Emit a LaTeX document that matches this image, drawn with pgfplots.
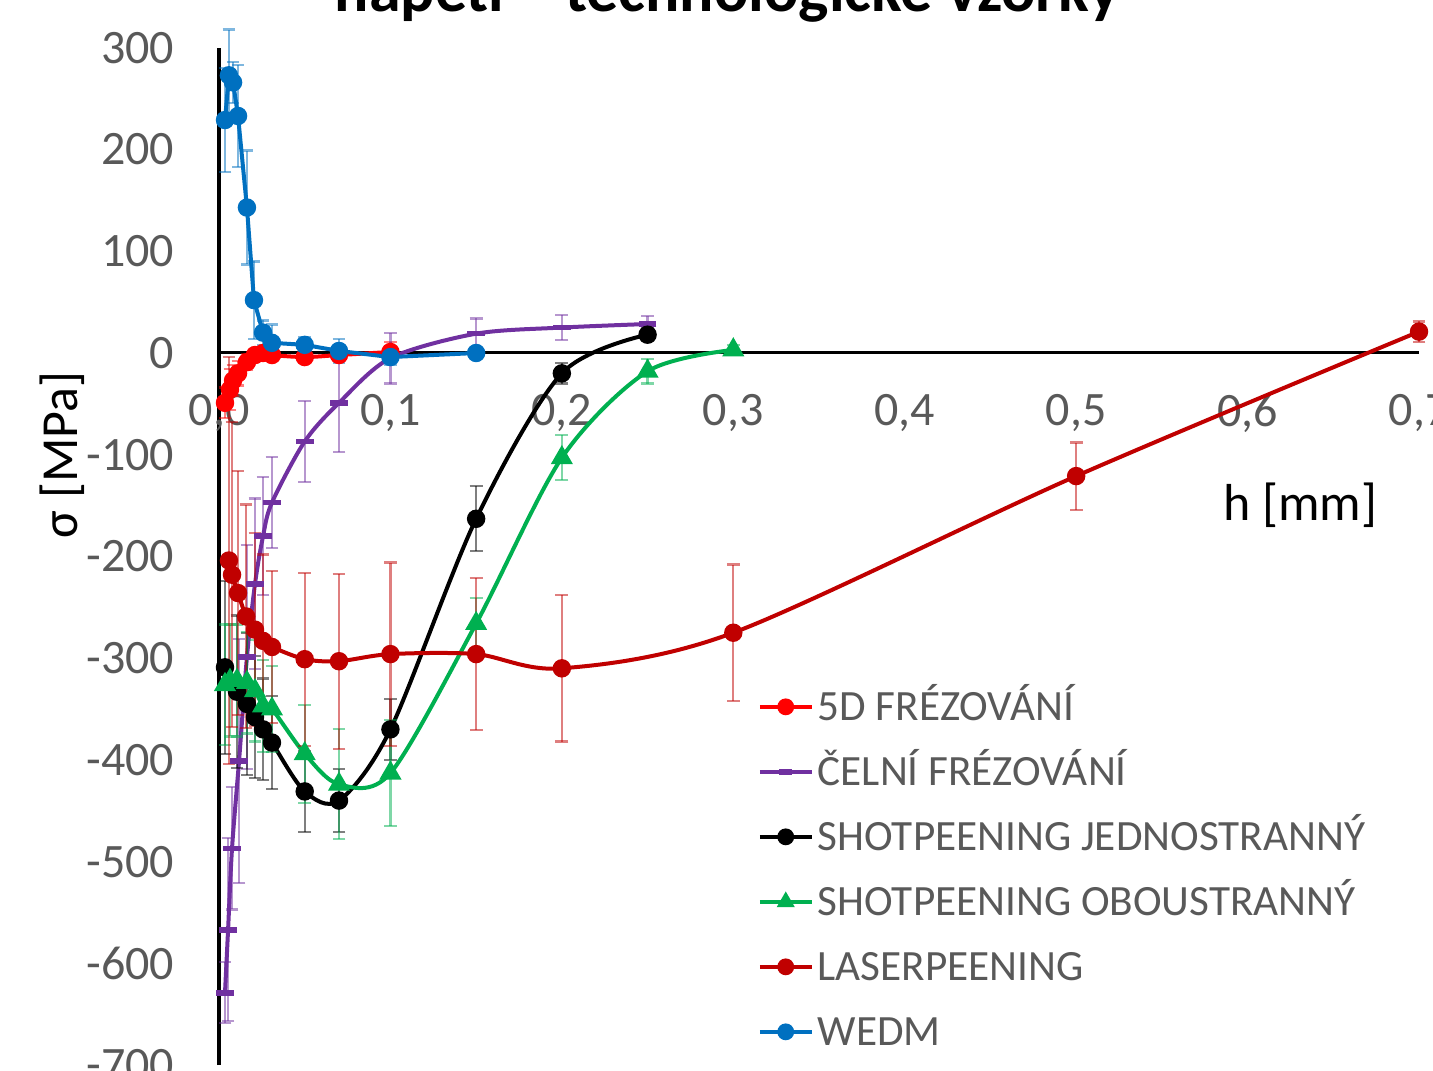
\documentclass[border=0pt]{standalone}
\usepackage{fontspec}
\setmainfont{Carlito}
\usepackage{pgfplots}
\pgfplotsset{compat=1.18}

\definecolor{c5d}{HTML}{FF0000}
\definecolor{ccel}{HTML}{7030A0}
\definecolor{csh1}{HTML}{000000}
\definecolor{csh2}{HTML}{00B050}
\definecolor{claser}{HTML}{C00000}
\definecolor{cwedm}{HTML}{0070C0}
\definecolor{tickgray}{HTML}{595959}

\pgfplotsset{
  ser/.style={line width=1pt, color=#1, mark options={solid, fill=#1, draw=#1},
    error bars/y dir=both, error bars/y explicit,
    error bars/error bar style={line width=0.55pt, draw=#1, draw opacity=0.5},
    error bars/error mark options={rotate=90, line width=0.55pt, mark size=1.6pt, draw=#1, draw opacity=0.5}},
}

\begin{document}
\begin{tikzpicture}
\useasboundingbox (-54.75pt,-179.25pt) rectangle (303.5pt,88.25pt);
\clip (-54.75pt,-179.25pt) rectangle (303.5pt,88.25pt);
\begin{axis}[
    anchor=origin, at={(0pt,0pt)},
    x=428.57pt, y=0.2543pt,
    xmin=0, xmax=0.7, ymin=-700, ymax=300,
    axis lines=middle,
    axis line style={-},
    x axis line style={line width=0.75pt},
    y axis line style={line width=1pt},
    clip=false,
    xtick={0,0.1,0.2,0.3,0.4,0.5,0.6,0.7},
    ytick={-700,-600,-500,-400,-300,-200,-100,0,100,200,300},
    major tick length=0pt,
    hide obscured x ticks=false, hide obscured y ticks=false,
    tick label style={font=\fontsize{12}{12}\selectfont, text=tickgray, inner sep=0pt,
      /pgf/number format/assume math mode=true},
    x tick label style={anchor=center, yshift=-15pt,
      /pgf/number format/.cd, fixed, fixed zerofill, precision=1, use comma, /tikz/.cd},
    y tick label style={anchor=east, xshift=-11pt,
      /pgf/number format/.cd, fixed, precision=0, /tikz/.cd},
    xlabel={h [mm]}, ylabel={σ [MPa]},
    every axis x label/.style={at={(axis cs:0.6307,-149.5)}, anchor=center,
      font=\fontsize{13}{13}\selectfont},
    every axis y label/.style={at={(axis cs:-0.0916,-100.3)}, anchor=center, rotate=90,
      font=\fontsize{13}{13}\selectfont},
    legend cell align=left,
    legend style={at={(axis cs:0.3138,-327.4)}, anchor=north west, draw=none, fill=none,
      inner sep=0pt, row sep=6.25pt, column sep=1pt,
      font=\fontsize{10.8}{10.8}\selectfont, text=tickgray,
      nodes={inner sep=0pt, text height=8.5pt, text depth=1.5pt}},
    legend image code/.code={\draw[mark repeat=2, mark phase=2, mark size=1.6pt]
      plot coordinates {(0pt,0pt) (6.5pt,0pt) (13pt,0pt)};},
]

% 5D frezovani
\addplot[ser=c5d, smooth, mark=*, mark size=1.8pt] coordinates {
  (0.0035,-49) +- (0,15)
  (0.0064,-36) +- (0,20)
  (0.0082,-27) +- (0,15)
  (0.0111,-20) +- (0,12)
  (0.0163,-9)  +- (0,8)
  (0.0210,-2)  +- (0,6)
  (0.0257,0)   +- (0,5)
  (0.0309,-2)  +- (0,5)
  (0.05,-4)    +- (0,5)
  (0.07,-2)    +- (0,5)
  (0.1,1)      +- (0,10)
};
\addlegendentry{5D FRÉZOVÁNÍ}

% celni frezovani
\addplot[ser=ccel, smooth, mark=-, mark size=2.2pt, mark options={line width=1.4pt}] coordinates {
  (0.0035,-629) +- (0,30)
  (0.0053,-567) +- (0,90)
  (0.0076,-487) +- (0,60)
  (0.0117,-401) +- (0,120)
  (0.0163,-299) +- (0,110)
  (0.0210,-227) +- (0,84)
  (0.0257,-180) +- (0,58)
  (0.0309,-147) +- (0,45)
  (0.05,-87)    +- (0,40)
  (0.07,-49)    +- (0,48)
  (0.1,-5)      +- (0,25)
  (0.15,19)     +- (0,15)
  (0.2,25)      +- (0,12)
  (0.25,28.5)   +- (0,8)
};
\addlegendentry{ČELNÍ FRÉZOVÁNÍ}

% shotpeening jednostranny
\addplot[ser=csh1, smooth, mark=*, mark size=1.8pt] coordinates {
  (0.0035,-309) +- (0,85)
  (0.0105,-333) +- (0,75)
  (0.0163,-345) +- (0,70)
  (0.0210,-358) +- (0,60)
  (0.0257,-370) +- (0,50)
  (0.0309,-383) +- (0,46)
  (0.05,-431)   +- (0,40)
  (0.07,-440)   +- (0,31)
  (0.1,-370)    +- (0,30)
  (0.15,-163)   +- (0,32)
  (0.2,-20)     +- (0,10)
  (0.25,18)     +- (0,6)
};
\addlegendentry{SHOTPEENING JEDNOSTRANNÝ}

% shotpeening oboustranny
\addplot[ser=csh2, smooth, mark=triangle*, mark size=2.2pt] coordinates {
  (0.0035,-326) +- (0,59)
  (0.0064,-322) +- (0,55)
  (0.0105,-322) +- (0,55)
  (0.0163,-324) +- (0,50)
  (0.0210,-332) +- (0,50)
  (0.0257,-347) +- (0,45)
  (0.0309,-350) +- (0,42)
  (0.05,-394)   +- (0,48)
  (0.07,-424)   +- (0,54)
  (0.1,-413)    +- (0,52)
  (0.15,-266)   +- (0,25)
  (0.2,-103)    +- (0,22)
  (0.25,-18)    +- (0,12)
  (0.3,3)       +- (0,5)
};
\addlegendentry{SHOTPEENING OBOUSTRANNÝ}

% laserpeening
\addplot[ser=claser, smooth, mark=*, mark size=1.8pt] coordinates {
  (0.0058,-204) +- (0,200)
  (0.0076,-218) +- (0,150)
  (0.0111,-236) +- (0,120)
  (0.0158,-259) +- (0,110)
  (0.0210,-272) +- (0,95)
  (0.0257,-283) +- (0,85)
  (0.0309,-289) +- (0,75)
  (0.05,-301)   +- (0,85)
  (0.07,-303)   +- (0,86)
  (0.1,-296)    +- (0,90)
  (0.15,-296)   +- (0,75)
  (0.2,-310)    +- (0,72)
  (0.3,-275)    +- (0,67)
  (0.5,-121)    +- (0,33)
  (0.7,21)      +- (0,10)
};
\addlegendentry{LASERPEENING}

% WEDM
\addplot[ser=cwedm, mark=*, mark size=1.8pt] coordinates {
  (0.0035,229) +- (0,51)
  (0.0058,273) +- (0,45)
  (0.0082,266) +- (0,20)
  (0.0111,233) +- (0,50)
  (0.0163,143) +- (0,56)
  (0.0204,52)  +- (0,38)
  (0.0257,20)  +- (0,12)
  (0.0309,10)  +- (0,18)
  (0.05,8)     +- (0,8)
  (0.07,2)     +- (0,12)
  (0.1,-4)     +- (0,8)
  (0.15,0)     +- (0,5)
};
\addlegendentry{WEDM}

\node[anchor=base, font=\bfseries\fontsize{16}{16}\selectfont]
  at (axis cs:0.2964,335.3) {napětí – technologické vzorky};

\end{axis}
\end{tikzpicture}
\end{document}
